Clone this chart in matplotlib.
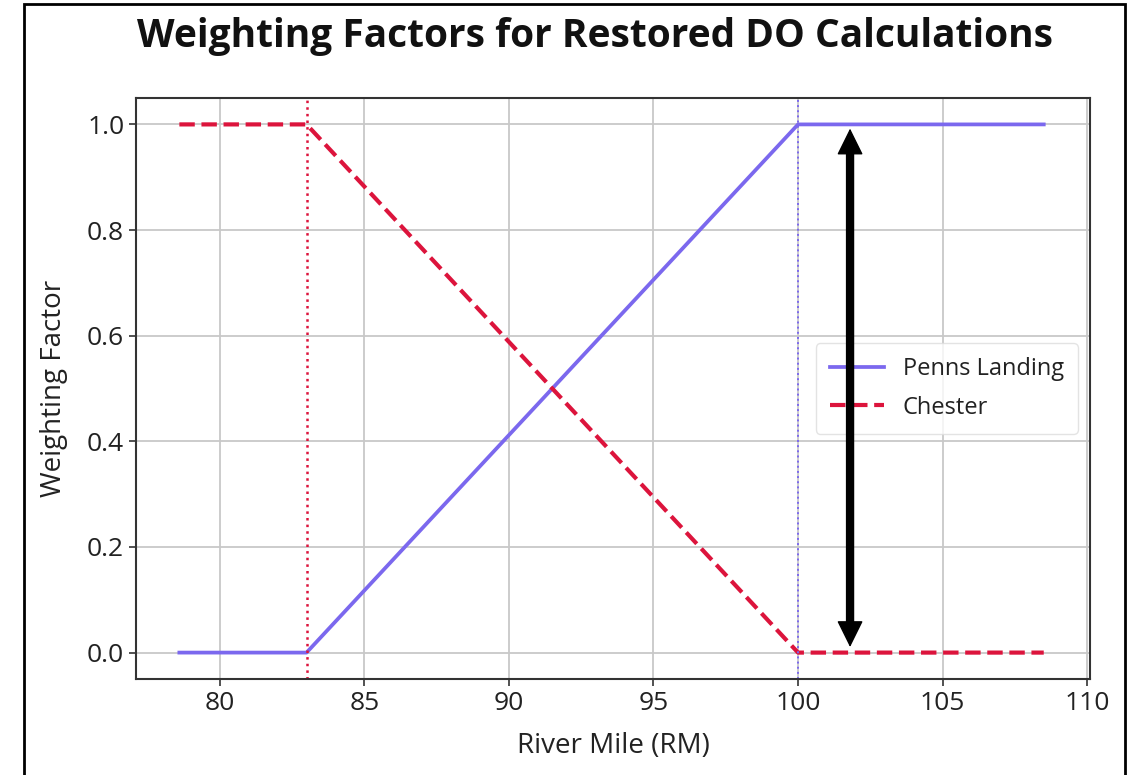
import matplotlib
matplotlib.use("Agg")
import matplotlib.pyplot as plt
import matplotlib.patches as patches

# river mile breakpoints and weights
river_mile = [78.6, 83.0, 100.0, 108.5]
penns_landing = [0.0, 0.0, 1.0, 1.0]
chester = [1.0, 1.0, 0.0, 0.0]
chester_limit = 83.0
penns_limit = 100.0
arrow_mile = 101.8
x_ticks = [80, 85, 90, 95, 100, 105, 110]
y_ticks = [0.0, 0.2, 0.4, 0.6, 0.8, 1.0]

plt.rcParams['font.family'] = ['Open Sans', 'DejaVu Sans']

fig = plt.figure(figsize=(11.38, 7.75), dpi=100)
ax = fig.add_axes([136 / 1138, 1 - 679 / 775, (1090 - 136) / 1138, (679 - 98) / 775])

blue = '#7B68EE'
red = '#DC143C'

ax.plot(river_mile, penns_landing, color=blue, lw=2.7, label='Penns Landing')
ax.plot(river_mile, chester, color=red, lw=3.0, ls='--', label='Chester')
ax.axvline(chester_limit, color=red, lw=1.8, ls=':')
ax.axvline(penns_limit, color=blue, lw=1.4, ls=':')

# double arrow: thick shaft + sharp heads, drawn above the legend
ax.annotate('', xy=(arrow_mile, 1.0), xytext=(arrow_mile, 0.0), zorder=7,
            arrowprops=dict(arrowstyle='-', color='black', lw=6,
                            shrinkA=12, shrinkB=12))
ax.annotate('', xy=(arrow_mile, 1.0), xytext=(arrow_mile, 0.0), zorder=7,
            arrowprops=dict(arrowstyle='<|-|>,head_length=0.85,head_width=0.42',
                            color='black', lw=1, mutation_scale=20,
                            shrinkA=4, shrinkB=3))

ax.set_xticks(x_ticks)
ax.set_yticks(y_ticks)
ax.set_xlim(77.1, 110.1)
ax.set_ylim(-0.05, 1.05)
ax.grid(True, color='#c8c8c8', lw=1.3)
ax.set_axisbelow(True)
for s in ax.spines.values():
    s.set_color('#333333')
    s.set_linewidth(1.5)
ax.tick_params(labelsize=19, length=5, width=1.2, color='#333333', labelcolor='#222222')

ax.set_xlabel('River Mile (RM)', fontsize=20, color='#222222', labelpad=12)
ax.set_ylabel('Weighting Factor', fontsize=20, color='#222222', labelpad=14)

leg = ax.legend(loc='center right', fontsize=17, frameon=True, handlelength=2.3,
                labelspacing=0.6, borderpad=0.6, borderaxespad=0.5,
                bbox_to_anchor=(1.0, 0.5))
leg.get_frame().set_edgecolor('#dddddd')
for t in leg.get_texts():
    t.set_color('#222222')

fig.text(595 / 1138, 1 - 36 / 775, 'Weighting Factors for Restored DO Calculations',
         fontsize=28, fontweight='bold', ha='center', va='center', color='#111111')

# outer frame from the screenshot
fig.patches.append(patches.Rectangle((24 / 1138, -0.02), (1125 - 24) / 1138, 0.9948 + 0.02,
                                     transform=fig.transFigure, fill=False,
                                     edgecolor='black', lw=2))

fig.savefig('out.png', dpi=100)
